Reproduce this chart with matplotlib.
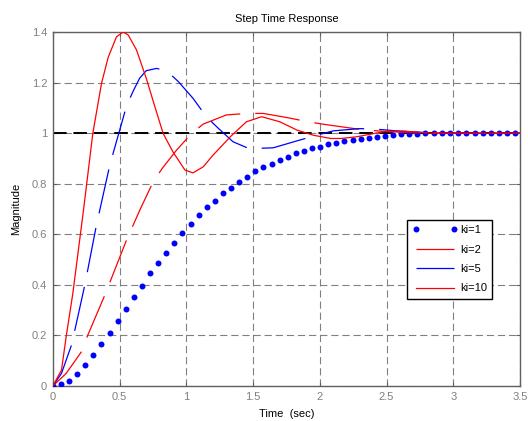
import numpy as np
import matplotlib.pyplot as plt

plt.rcParams['font.family'] = ['Liberation Sans', 'DejaVu Sans']

## Values

# ki=1, sampled response (dots)
t_ki1 = [0.0, 0.061, 0.121, 0.182, 0.243, 0.304, 0.364, 0.425, 0.486, 0.546,
         0.607, 0.668, 0.728, 0.789, 0.85, 0.911, 0.971, 1.032, 1.093, 1.153,
         1.214, 1.275, 1.335, 1.396, 1.457, 1.518, 1.578, 1.639, 1.70, 1.76,
         1.82, 1.88, 1.94, 2.0, 2.06, 2.12, 2.18, 2.245, 2.305, 2.365,
         2.43, 2.49, 2.55, 2.61, 2.67, 2.73, 2.79, 2.855, 2.915, 2.975,
         3.035, 3.095, 3.16, 3.22, 3.28, 3.34, 3.40, 3.46]
y_ki1 = [0.0, 0.007, 0.021, 0.047, 0.083, 0.123, 0.166, 0.208, 0.257, 0.306,
         0.353, 0.397, 0.446, 0.488, 0.527, 0.567, 0.606, 0.641, 0.676, 0.707,
         0.733, 0.762, 0.784, 0.807, 0.828, 0.850, 0.867, 0.880, 0.894, 0.907,
         0.920, 0.929, 0.942, 0.946, 0.957, 0.963, 0.968, 0.972, 0.976, 0.982,
         0.986, 0.988, 0.992, 0.995, 0.995, 0.996, 0.999, 0.999, 0.999, 1.0,
         1.0, 1.0, 1.0, 1.0, 1.0, 1.0, 1.0, 1.0]

# ki=2 (red, dashed)
t_ki2 = [0.0, 0.10, 0.215, 0.257, 0.39, 0.552, 0.652, 0.752, 0.82, 0.927,
         1.04, 1.127, 1.30, 1.45, 1.577, 1.75, 1.914, 2.03, 2.30, 2.5,
         2.7, 3.0, 3.5]
y_ki2 = [0.0, 0.05, 0.136, 0.195, 0.36, 0.577, 0.696, 0.808, 0.861, 0.933,
         0.999, 1.036, 1.072, 1.078, 1.078, 1.062, 1.045, 1.035, 1.015, 1.006,
         1.002, 1.0, 1.0]

# ki=5 (blue, dashed)
t_ki5 = [0.0, 0.065, 0.14, 0.165, 0.24, 0.327, 0.352, 0.427, 0.552, 0.60,
         0.65, 0.70, 0.777, 0.852, 0.94, 1.05, 1.15, 1.24, 1.35, 1.465,
         1.54, 1.65, 1.80, 1.95, 2.10, 2.30, 2.44, 2.6, 2.8, 3.1, 3.5]
y_ki5 = [0.0, 0.05, 0.162, 0.221, 0.40, 0.637, 0.696, 0.874, 1.107, 1.164,
         1.217, 1.247, 1.256, 1.247, 1.204, 1.138, 1.065, 1.019, 0.966, 0.94,
         0.94, 0.942, 0.965, 0.988, 1.009, 1.018, 1.015, 1.008, 1.002, 1.0, 1.0]

# ki=10 (red, solid)
t_ki10 = [0.0, 0.065, 0.10, 0.15, 0.23, 0.30, 0.365, 0.415, 0.477, 0.527,
          0.565, 0.627, 0.70, 0.765, 0.827, 0.90, 0.99, 1.05, 1.127, 1.20,
          1.33, 1.45, 1.565, 1.70, 1.83, 1.95, 2.08, 2.16, 2.28, 2.40,
          2.50, 2.63, 2.83, 3.1, 3.5]
y_ki10 = [0.0, 0.063, 0.195, 0.366, 0.696, 1.0, 1.197, 1.30, 1.381, 1.40,
          1.388, 1.329, 1.217, 1.104, 0.998, 0.926, 0.854, 0.843, 0.867, 0.913,
          0.986, 1.045, 1.065, 1.045, 1.012, 0.992, 0.979, 0.979, 0.986, 0.998,
          1.008, 1.008, 1.0, 1.0, 1.0]

x_ticks = [0, 0.5, 1, 1.5, 2, 2.5, 3, 3.5]
x_ticklabels = ['0', '0.5', '1', '1.5', '2', '2.5', '3', '3.5']
y_ticks = [0, 0.2, 0.4, 0.6, 0.8, 1.0, 1.2, 1.4]
y_ticklabels = ['0', '0.2', '0.4', '0.6', '0.8', '1', '1.2', '1.4']


## Plotting
fig = plt.figure(figsize=(5.28, 4.21), dpi=100)
ax = fig.add_axes([0.100, 0.083, 0.885, 0.841])

grey = '#808080'
ax.grid(True, color=grey, linestyle=(0, (6.5, 3.5)), linewidth=0.8)
ax.set_axisbelow(True)

ax.axhline(1.0, color='black', linewidth=1.4, linestyle=(0, (7, 3.5)), zorder=2)

ax.plot(t_ki1, y_ki1, 'o', color='blue', markersize=4.3, markeredgewidth=0,
        label='ki=1', zorder=3)
ax.plot(t_ki2, y_ki2, color='red', linewidth=0.9, dashes=(36, 12),
        label='ki=2', zorder=3)
ax.plot(t_ki5, y_ki5, color='blue', linewidth=0.9, dashes=(36, 12),
        label='ki=5', zorder=3)
ax.plot(t_ki10, y_ki10, color='red', linewidth=0.9, label='ki=10', zorder=3)

ax.set_xlim(0, 3.5)
ax.set_ylim(0, 1.4)
ax.set_xticks(x_ticks)
ax.set_xticklabels(x_ticklabels)
ax.set_yticks(y_ticks)
ax.set_yticklabels(y_ticklabels)
ax.tick_params(direction='in', length=3, width=0.8, colors='#606060',
               labelcolor=grey, labelsize=8, top=True, right=True, pad=4)
for s in ax.spines.values():
    s.set_color('#606060')
    s.set_linewidth(1.0)

ax.set_title('Step Time Response', fontsize=8, pad=7)
ax.set_xlabel('Time  (sec)', fontsize=8, labelpad=5)
ax.set_ylabel('Magnitude', fontsize=8, labelpad=8)

leg = ax.legend(loc='lower left', bbox_to_anchor=(0.758, 0.246), borderaxespad=0,
                fontsize=8, numpoints=2, handlelength=4.0, handletextpad=0.25,
                labelspacing=0.85, fancybox=False, framealpha=1,
                edgecolor='black', borderpad=0.5)
leg.get_frame().set_linewidth(1.0)

plt.savefig('out.png', dpi=100)
